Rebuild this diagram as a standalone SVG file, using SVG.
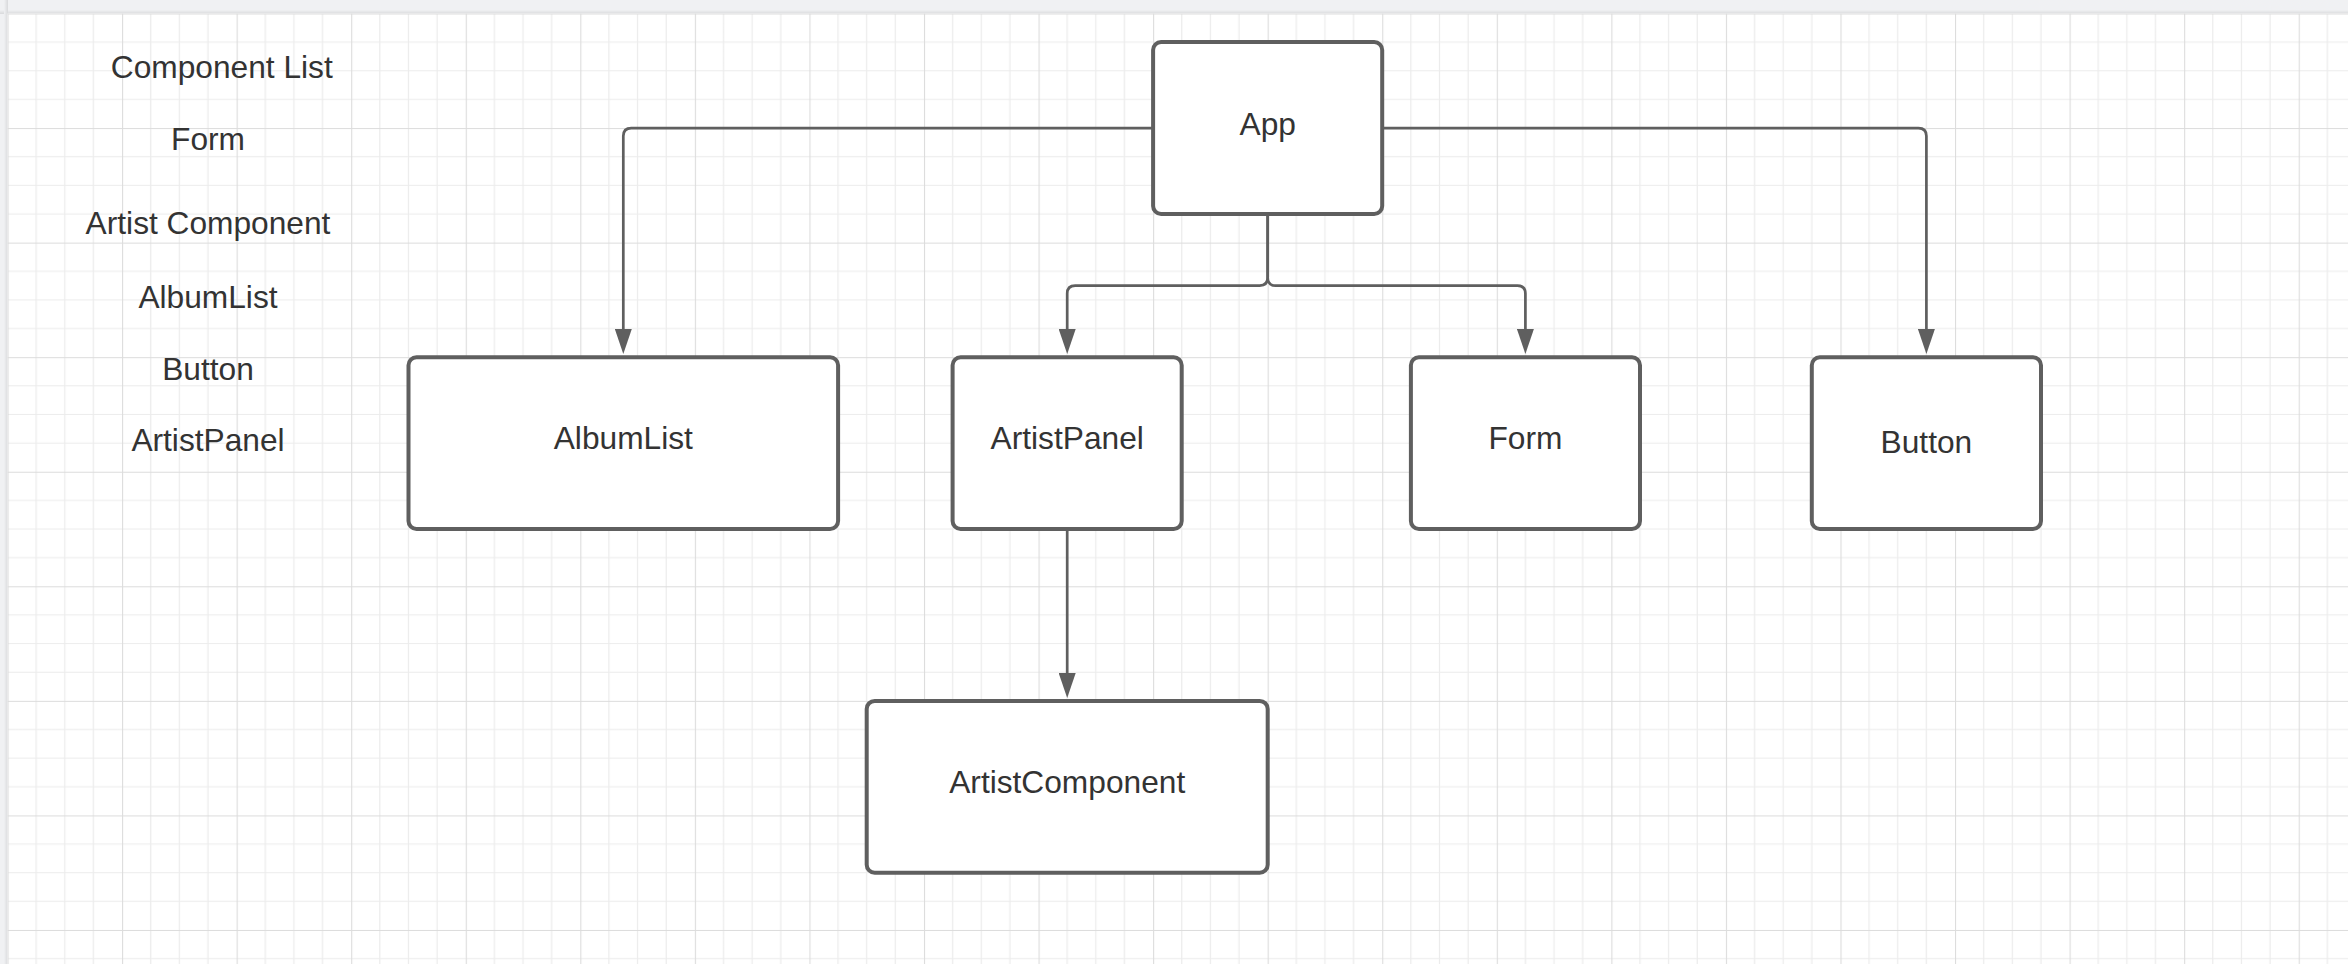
<svg xmlns="http://www.w3.org/2000/svg" width="2348" height="964" viewBox="0 0 2348 964">
<style>
.box{fill:#ffffff;stroke:#5f5f5f;stroke-width:4}
.lbl{font-family:"Liberation Sans",Arial,sans-serif;font-size:31.7px;fill:#333333;text-anchor:middle}
.con{fill:none;stroke:#5f5f5f;stroke-width:2.7}
</style>
<defs>
<pattern id="grid" patternUnits="userSpaceOnUse" x="7.5" y="13.5" width="114.56" height="114.56">
<path d="M28.64 0V114.56M57.28 0V114.56M85.92 0V114.56M0 28.64H114.56M0 57.28H114.56M0 85.92H114.56" stroke="#ececec" stroke-width="1.2" fill="none"/>
<path d="M0.5 0V114.56M0 0.5H114.56" stroke="#dcdcdc" stroke-width="1.2" fill="none"/>
</pattern>
<marker id="arr" viewBox="0 0 25 17" refX="15" refY="8.5" markerWidth="25" markerHeight="17" markerUnits="userSpaceOnUse" orient="auto">
<polygon points="0,0 25,8.5 0,17" fill="#5f5f5f"/>
</marker>
<linearGradient id="shL" x1="0" x2="1" y1="0" y2="0"><stop offset="0" stop-color="#f0f1f3"/><stop offset="1" stop-color="#d8d9db"/></linearGradient>
<linearGradient id="shT" x1="0" x2="0" y1="0" y2="1"><stop offset="0" stop-color="#f0f1f3"/><stop offset="1" stop-color="#d8d9db"/></linearGradient>
</defs>
<rect x="0" y="0" width="2348" height="964" fill="#f0f1f3"/>
<rect x="0" y="10" width="2348" height="4" fill="url(#shT)"/>
<rect x="4" y="0" width="4" height="964" fill="url(#shL)"/>
<rect x="7.5" y="13.5" width="2340.5" height="950.5" fill="#ffffff"/>
<rect x="7.5" y="13.5" width="2340.5" height="950.5" fill="url(#grid)"/>

<g id="legend">
<text class="lbl" x="221.8" y="77.7">Component List</text>
<text class="lbl" x="208" y="150">Form</text>
<text class="lbl" x="208" y="234">Artist Component</text>
<text class="lbl" x="208" y="308.3">AlbumList</text>
<text class="lbl" x="208" y="380">Button</text>
<text class="lbl" x="208" y="450.7">ArtistPanel</text>
</g>

<g id="connectors">
<path class="con" d="M1153.1 128.1H631.3Q623.3 128.1 623.3 136.1V344" marker-end="url(#arr)"/>
<path class="con" d="M1382.2 128.1H1918.4Q1926.4 128.1 1926.4 136.1V344" marker-end="url(#arr)"/>
<path class="con" d="M1267.7 214V277.6Q1267.7 285.6 1259.7 285.6H1075.2Q1067.2 285.6 1067.2 293.6V344" marker-end="url(#arr)"/>
<path class="con" d="M1267.7 214V277.6Q1267.7 285.6 1275.7 285.6H1517.4Q1525.4 285.6 1525.4 293.6V344" marker-end="url(#arr)"/>
<path class="con" d="M1067.2 529V688" marker-end="url(#arr)"/>
</g>

<g id="node-app">
<rect class="box" x="1153.1" y="42.1" width="229.1" height="171.9" rx="8"/>
<text class="lbl" x="1267.7" y="135">App</text>
</g>
<g id="node-albumlist">
<rect class="box" x="408.5" y="357.2" width="429.6" height="171.8" rx="8"/>
<text class="lbl" x="623.3" y="449">AlbumList</text>
</g>
<g id="node-artistpanel">
<rect class="box" x="952.6" y="357.2" width="229.1" height="171.8" rx="8"/>
<text class="lbl" x="1067.2" y="449">ArtistPanel</text>
</g>
<g id="node-form">
<rect class="box" x="1410.9" y="357.2" width="229.1" height="171.8" rx="8"/>
<text class="lbl" x="1525.4" y="449">Form</text>
</g>
<g id="node-button">
<rect class="box" x="1811.8" y="357.2" width="229.2" height="171.8" rx="8"/>
<text class="lbl" x="1926.4" y="452.7">Button</text>
</g>
<g id="node-artistcomponent">
<rect class="box" x="866.7" y="700.9" width="401" height="171.8" rx="8"/>
<text class="lbl" x="1067.2" y="793.3">ArtistComponent</text>
</g>
</svg>
